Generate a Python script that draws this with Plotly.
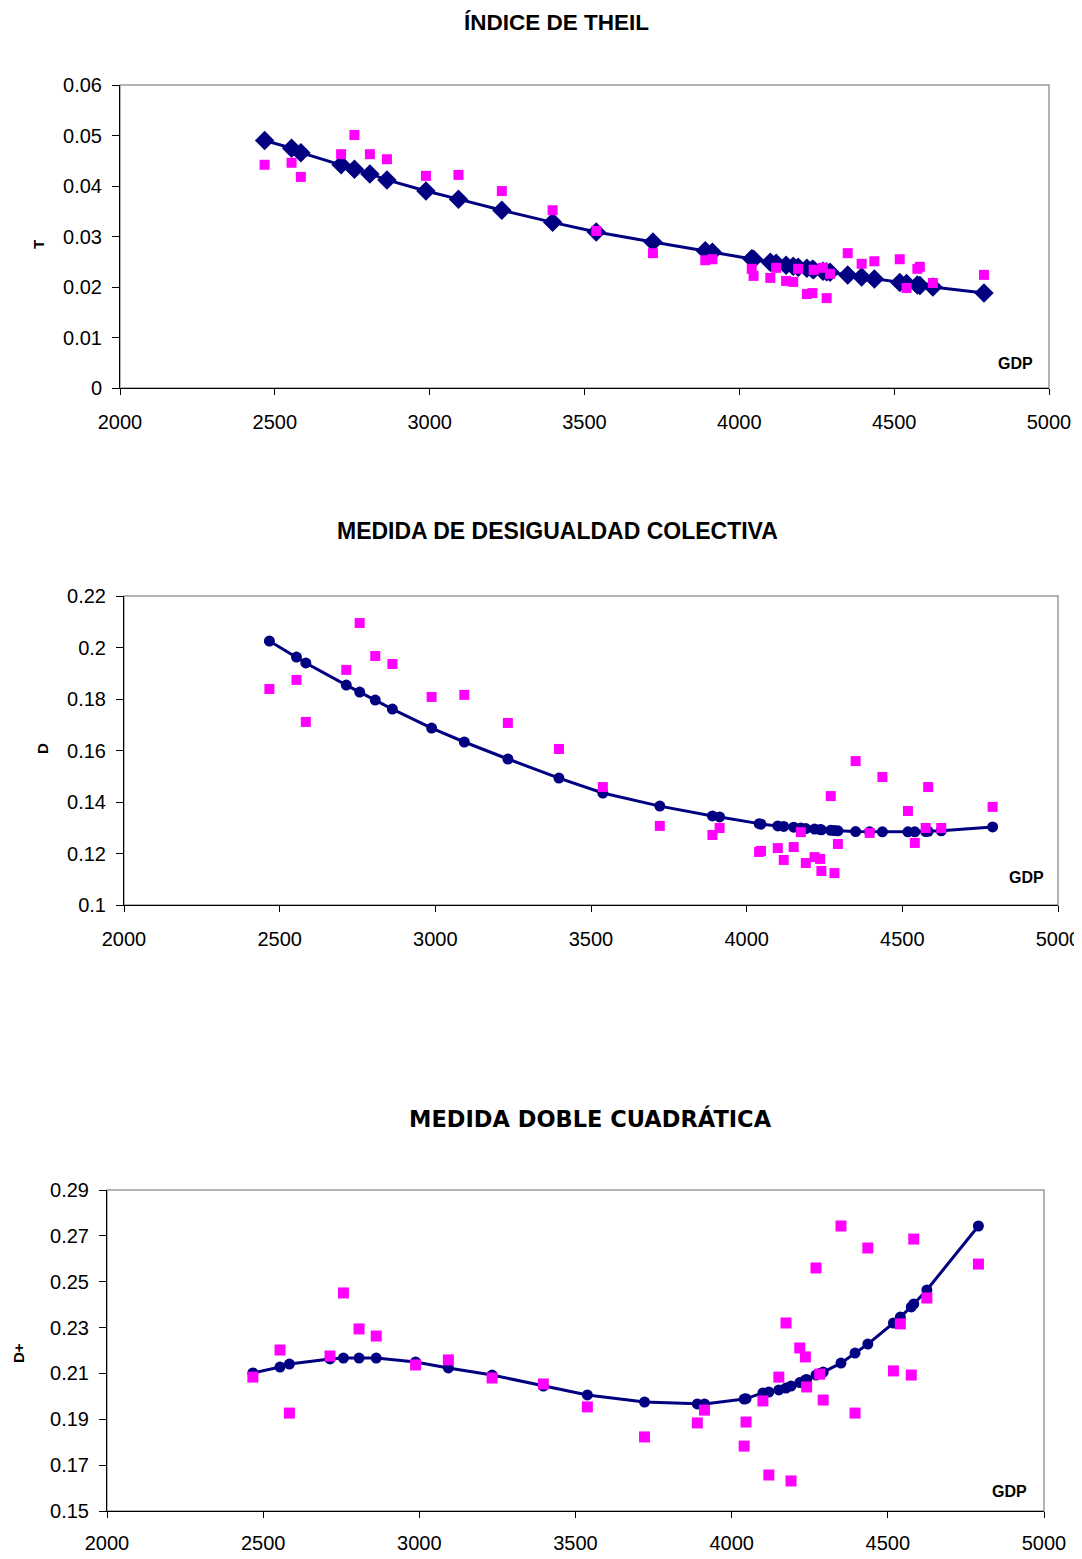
import plotly.graph_objects as go

# ---------------- data ----------------
gdp = [2467, 2554, 2584, 2714, 2757, 2807, 2862, 2988, 3093, 3233, 3397, 3538,
       3721, 3890, 3913, 4040, 4046, 4100, 4119, 4151, 4174, 4190, 4218, 4236,
       4240, 4270, 4282, 4293, 4350, 4395, 4436, 4518, 4540, 4575, 4583, 4625, 4790]

theil_fit = [0.0490, 0.0475, 0.0466, 0.0442, 0.0433, 0.0424, 0.0412, 0.0390, 0.0374,
             0.0352, 0.0328, 0.0309, 0.0289, 0.0272, 0.0269, 0.0256, 0.0255, 0.0249,
             0.0247, 0.0243, 0.0241, 0.0239, 0.0237, 0.0235, 0.0234, 0.0231, 0.0230,
             0.0229, 0.0224, 0.0220, 0.0216, 0.0209, 0.0207, 0.0204, 0.0203, 0.0200, 0.0188]
theil_obs = [0.0442, 0.0446, 0.0418, 0.0463, 0.0501, 0.0463, 0.0453, 0.0420, 0.0422,
             0.0390, 0.0352, 0.0311, 0.0267, 0.0253, 0.0255, 0.0236, 0.0222, 0.0218,
             0.0238, 0.0212, 0.0210, 0.0236, 0.0186, 0.0188, 0.0234, 0.0238, 0.0178,
             0.0226, 0.0267, 0.0246, 0.0251, 0.0255, 0.0198, 0.0236, 0.0240, 0.0208, 0.0224]

d_fit = [0.2025, 0.1963, 0.1940, 0.1854, 0.1827, 0.1796, 0.1761, 0.1687, 0.1633,
         0.1567, 0.1493, 0.1435, 0.1384, 0.1346, 0.1342, 0.1316, 0.1314, 0.1307,
         0.1305, 0.1302, 0.1299, 0.1297, 0.1295, 0.1293, 0.1292, 0.1290, 0.1289,
         0.1288, 0.1285, 0.1284, 0.1284, 0.1284, 0.1284, 0.1285, 0.1286, 0.1288, 0.1303]
d_obs = [0.1839, 0.1874, 0.1711, 0.1913, 0.2095, 0.1967, 0.1936, 0.1808, 0.1816,
         0.1707, 0.1606, 0.1458, 0.1307, 0.1272, 0.1299, 0.1206, 0.1210, 0.1221,
         0.1175, 0.1225, 0.1283, 0.1163, 0.1186, 0.1179, 0.1132, 0.1423, 0.1124,
         0.1237, 0.1559, 0.1280, 0.1497, 0.1365, 0.1241, 0.1299, 0.1458, 0.1299, 0.1381]

dp_fit = [0.2102, 0.2128, 0.2141, 0.2163, 0.2167, 0.2167, 0.2167, 0.2150, 0.2124,
          0.2093, 0.2045, 0.2006, 0.1975, 0.1967, 0.1967, 0.1988, 0.1990, 0.2015,
          0.2019, 0.2028, 0.2036, 0.2045, 0.2060, 0.2071, 0.2074, 0.2093, 0.2100,
          0.2106, 0.2145, 0.2189, 0.2228, 0.2320, 0.2346, 0.2390, 0.2403, 0.2464, 0.2743]
dp_obs = [0.2084, 0.2202, 0.1927, 0.2176, 0.2451, 0.2294, 0.2263, 0.2137, 0.2159,
          0.2080, 0.2054, 0.1954, 0.1823, 0.1884, 0.1940, 0.1783, 0.1888, 0.1980,
          0.1657, 0.2084, 0.2320, 0.1631, 0.2211, 0.2172, 0.2041, 0.2560, 0.2097,
          0.1984, 0.2743, 0.1927, 0.2647, 0.2111, 0.2316, 0.2093, 0.2686, 0.2429, 0.2577]

titles = ["ÍNDICE DE THEIL", "MEDIDA DE DESIGUALDAD COLECTIVA", "MEDIDA DOBLE CUADRÁTICA"]
ytitles = ["T", "D", "D+"]
x_ticks = [2000, 2500, 3000, 3500, 4000, 4500, 5000]
y1_ticks = [0, 0.01, 0.02, 0.03, 0.04, 0.05, 0.06]
y2_ticks = [0.1, 0.12, 0.14, 0.16, 0.18, 0.2, 0.22]
y3_ticks = [0.15, 0.17, 0.19, 0.21, 0.23, 0.25, 0.27, 0.29]

# ---------------- layout geometry (page pixels; body margin is 8px) ----------------
OFF = 8
W, H = 1082 - OFF, 1559 - OFF
FONT = "Liberation Sans, Arial, sans-serif"
NAVY = "#000080"
MAGENTA = "#FF00FF"


def fx(px):
    return (px - OFF) / W


def fy(py):
    return 1 - (py - OFF) / H


panels = [
    dict(l=120, r=1049, t=85, b=388, yt=y1_ticks, sym="diamond", fsize=15, osize=10,
         title_xy=(556, 22), ytit_xy=(38, 244), gdp_xy=(1015, 364),
         tfont=FONT, tsize=22.5, xstand=10),
    dict(l=124, r=1058, t=596, b=905, yt=y2_ticks, sym="circle", fsize=11, osize=10,
         title_xy=(557, 531), ytit_xy=(42, 749), gdp_xy=(1026, 877),
         tfont=FONT, tsize=23, xstand=10),
    dict(l=107, r=1044, t=1190, b=1511, yt=y3_ticks, sym="circle", fsize=11, osize=11,
         title_xy=(590, 1118), ytit_xy=(18, 1353), gdp_xy=(1009, 1491),
         tfont="DejaVu Sans, Liberation Sans, sans-serif", tsize=22.5, xstand=8),
]
fits = [theil_fit, d_fit, dp_fit]
obss = [theil_obs, d_obs, dp_obs]

fig = go.Figure()
layout = dict(template="none", width=W, height=H,
              margin=dict(l=0, r=0, t=0, b=0, autoexpand=False),
              plot_bgcolor="white", paper_bgcolor="white", showlegend=False,
              font=dict(family=FONT, color="black"))
annotations = []
shapes = []

for i, p in enumerate(panels):
    n = "" if i == 0 else str(i + 1)
    xa, ya = "x" + n, "y" + n
    fig.add_trace(go.Scatter(x=gdp, y=fits[i], mode="lines+markers", xaxis=xa, yaxis=ya,
                             line=dict(color=NAVY, width=3),
                             marker=dict(symbol=p["sym"], size=p["fsize"], color=NAVY,
                                         line=dict(width=0))))
    fig.add_trace(go.Scatter(x=gdp, y=obss[i], mode="markers", xaxis=xa, yaxis=ya,
                             marker=dict(symbol="square", size=p["osize"], color=MAGENTA,
                                         line=dict(width=0))))
    yt = p["yt"]
    layout["xaxis" + n] = dict(domain=[fx(p["l"]), fx(p["r"])], anchor=ya,
                               range=[2000, 5000], tickvals=x_ticks, automargin=False,
                               showgrid=False, zeroline=False, showline=True,
                               linecolor="black", linewidth=1, ticks="outside",
                               ticklen=6, tickcolor="black", tickwidth=1,
                               ticklabelstandoff=p["xstand"],
                               tickfont=dict(size=20, family=FONT, color="black"))
    layout["yaxis" + n] = dict(domain=[fy(p["b"]), fy(p["t"])], anchor=xa,
                               range=[yt[0], yt[-1]], tickvals=yt, automargin=False,
                               showgrid=False, zeroline=False, showline=True,
                               linecolor="black", linewidth=1, ticks="outside",
                               ticklen=7, tickcolor="black", tickwidth=1,
                               ticklabelstandoff=6,
                               tickfont=dict(size=20, family=FONT, color="black"))
    shapes.append(dict(type="rect", xref=xa + " domain", yref=ya + " domain",
                       x0=0, x1=1, y0=0, y1=1, layer="below",
                       line=dict(color="#9a9a9a", width=1.5)))
    tx, ty = p["title_xy"]
    annotations.append(dict(text="<b>" + titles[i] + "</b>", x=fx(tx), y=fy(ty),
                            xref="paper", yref="paper", showarrow=False,
                            xanchor="center", yanchor="middle",
                            font=dict(size=p["tsize"], family=p["tfont"], color="black")))
    yx, yy = p["ytit_xy"]
    annotations.append(dict(text="<b>" + ytitles[i] + "</b>", x=fx(yx), y=fy(yy),
                            xref="paper", yref="paper", showarrow=False, textangle=-90,
                            xanchor="center", yanchor="middle",
                            font=dict(size=15, family=FONT, color="black")))
    gx, gy = p["gdp_xy"]
    annotations.append(dict(text="<b>GDP</b>", x=fx(gx), y=fy(gy),
                            xref="paper", yref="paper", showarrow=False,
                            xanchor="center", yanchor="middle",
                            font=dict(size=16, family=FONT, color="black")))

layout["annotations"] = annotations
layout["shapes"] = shapes
fig.update_layout(**layout)
fig.write_html("out.html")
